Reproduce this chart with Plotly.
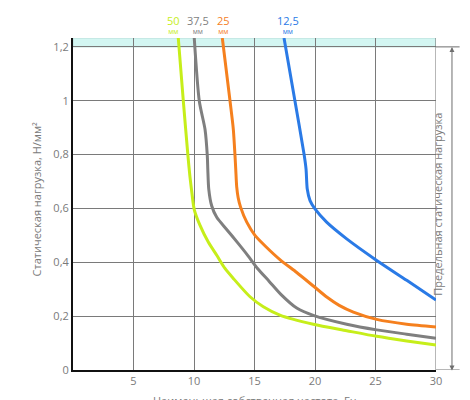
import plotly.graph_objects as go

# ---- data ----
labels = ["50", "37,5", "25", "12,5"]
colors = ["#c6ee1a", "#7f7f7f", "#f5801e", "#2a7ae6"]

x_50 = [8.70, 9.12, 9.50, 9.66, 9.82, 10.02, 10.50, 11.18, 11.88, 12.56, 13.25, 14.63, 15.73, 17.10, 19.86, 22.62, 25.10, 27.58, 30.0]
y_50 = [1.233, 0.998, 0.795, 0.720, 0.660, 0.596, 0.537, 0.475, 0.426, 0.377, 0.340, 0.272, 0.235, 0.204, 0.170, 0.146, 0.125, 0.108, 0.093]

x_375 = [10.02, 10.44, 10.91, 11.10, 11.14, 11.22, 11.46, 11.88, 12.70, 13.60, 14.45, 15.25, 16.20, 17.20, 18.49, 19.86, 22.62, 25.10, 27.58, 30.0]
y_375 = [1.233, 0.998, 0.894, 0.795, 0.746, 0.672, 0.610, 0.567, 0.522, 0.473, 0.425, 0.377, 0.330, 0.280, 0.230, 0.203, 0.170, 0.149, 0.133, 0.118]

x_25 = [12.34, 12.98, 13.25, 13.39, 13.45, 13.53, 13.65, 13.85, 14.36, 15.04, 16.01, 17.10, 18.49, 19.86, 21.00, 22.00, 23.17, 25.10, 27.58, 30.0]
y_25 = [1.233, 0.998, 0.894, 0.795, 0.746, 0.680, 0.640, 0.605, 0.549, 0.500, 0.455, 0.410, 0.362, 0.312, 0.270, 0.240, 0.215, 0.188, 0.170, 0.160]

x_125 = [17.44, 18.35, 19.10, 19.26, 19.36, 19.59, 20.00, 20.96, 22.62, 25.10, 27.58, 30.0]
y_125 = [1.233, 0.997, 0.800, 0.746, 0.672, 0.629, 0.598, 0.549, 0.487, 0.407, 0.333, 0.260]

series_x = [x_50, x_375, x_25, x_125]
series_y = [y_50, y_375, y_25, y_125]

x_ticks = [5, 10, 15, 20, 25, 30]
y_ticks = [0, 0.2, 0.4, 0.6, 0.8, 1.0, 1.2]
y_limit = 1.2
y_top = 1.233
x_max = 30

FONT = "Open Sans"
TXT = "#7a7a7a"

fig = go.Figure()

for xs, ys, c in zip(series_x, series_y, colors):
    fig.add_trace(go.Scatter(x=xs, y=ys, mode="lines",
                             line=dict(color=c, width=3, shape="spline", smoothing=0.7),
                             hoverinfo="skip", showlegend=False, cliponaxis=True))

# cyan limit band
fig.add_shape(type="rect", xref="x", yref="y", x0=0, x1=x_max, y0=y_limit, y1=y_top,
              fillcolor="#d3f6f2", line=dict(color="#b8dcd8", width=1), layer="below")
# right border line at x=30
fig.add_shape(type="line", xref="x", yref="y", x0=x_max, x1=x_max, y0=0, y1=y_top,
              line=dict(color="#6e6e6e", width=1), layer="between")
# extension lines to the arrow
fig.add_shape(type="line", xref="paper", yref="y", x0=1.0, x1=1.065, y0=y_limit, y1=y_limit,
              line=dict(color="#6e6e6e", width=1))
fig.add_shape(type="line", xref="paper", yref="y", x0=1.0, x1=1.065, y0=0, y1=0,
              line=dict(color="#6e6e6e", width=1))

# double arrow
fig.add_annotation(x=1.044, xref="paper", y=y_limit, yref="y",
                   ax=0, ay=325, axref="pixel", ayref="pixel",
                   text="", showarrow=True, arrowside="end+start",
                   arrowhead=2, arrowsize=1, arrowwidth=1, arrowcolor="#6e6e6e",
                   standoff=0, startstandoff=0)

fig.add_annotation(x=1.028, xref="paper", y=0.5, yref="paper",
                   text="Предельная статическая нагрузка", textangle=-90,
                   showarrow=False, font=dict(family=FONT, size=11, color=TXT))

fig.add_annotation(x=-0.127, xref="paper", y=0.515, yref="paper",
                   text="Статическая нагрузка, Н/мм²", textangle=-90,
                   showarrow=False, font=dict(family=FONT, size=11, color=TXT))

fig.add_annotation(x=0.5, xref="paper", y=-0.093, yref="paper", yanchor="middle",
                   text="Наименьшая собственная частота, Гц", showarrow=False,
                   font=dict(family=FONT, size=11, color=TXT))

shifts = [-5, 4, 1, 4]
for lab, xs, c, s in zip(labels, series_x, colors, shifts):
    fig.add_annotation(x=xs[0], xref="x", y=1.041, yref="paper", xshift=s,
                       text="<span style='font-size:11px'>" + lab + "</span><br>мм",
                       showarrow=False, yanchor="middle",
                       font=dict(family=FONT, size=7, color=c))

fig.update_xaxes(range=[0, x_max], tickvals=x_ticks, showgrid=True,
                 gridcolor="#7a7a7a", gridwidth=1, showline=True, linecolor="#111111",
                 linewidth=2, zeroline=False, ticks="", ticklen=0,
                 tickfont=dict(family=FONT, size=11, color=TXT), fixedrange=True)
fig.update_yaxes(range=[0, y_top], tickvals=y_ticks, showgrid=True,
                 gridcolor="#7a7a7a", gridwidth=1, showline=True, linecolor="#111111",
                 linewidth=2, zeroline=False, ticks="", ticklen=6, tickcolor="rgba(0,0,0,0)",
                 tickfont=dict(family=FONT, size=11, color=TXT), fixedrange=True)

fig.update_layout(width=470, height=400, margin=dict(l=73, r=34, t=38, b=28),
                  paper_bgcolor="white", plot_bgcolor="white", separators=", ",
                  font=dict(family=FONT, color=TXT), showlegend=False)

fig.write_html("out.html", config={"displayModeBar": False},
               post_script="document.body.style.margin='0';document.body.style.overflow='hidden';")
